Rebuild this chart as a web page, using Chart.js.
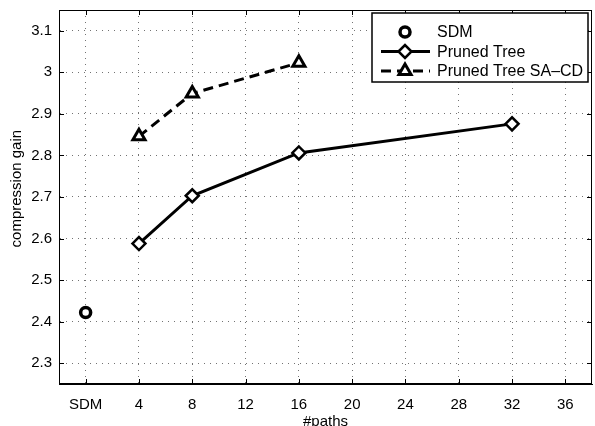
<!DOCTYPE html>
<html>
<head>
<meta charset="utf-8">
<script src="https://cdn.jsdelivr.net/npm/chart.js@4.4.0/dist/chart.umd.min.js"></script>
<style>
  html, body { margin: 0; padding: 0; background: #fff; }
</style>
</head>
<body>
<canvas id="chart" width="595" height="426"></canvas>
<script>
// values
const xTicks = [0, 4, 8, 12, 16, 20, 24, 28, 32, 36];
const yTicks = [2.3, 2.4, 2.5, 2.6, 2.7, 2.8, 2.9, 3.0, 3.1];
const sdmPaths = [0];
const sdmGain = [2.422];
const treePaths = [4, 8, 16, 32];
const treeGain = [2.588, 2.703, 2.806, 2.876];
const sacdPaths = [4, 8, 16];
const sacdGain = [2.846, 2.949, 3.023];
const seriesNames = ['SDM', 'Pruned Tree', 'Pruned Tree SA\u2013CD'];

const FONT = "'Liberation Sans', Arial, Helvetica, sans-serif";
Chart.defaults.font.family = FONT;
Chart.defaults.font.size = 15;
Chart.defaults.color = '#000';

const pts = (xs, ys) => xs.map((x, i) => ({ x: x, y: ys[i] }));

// box around the axes plus inward tick marks, matlab style
const framePlugin = {
  id: 'frame',
  afterDatasetsDraw(chart) {
    const { ctx, chartArea: a, scales } = chart;
    ctx.save();
    ctx.strokeStyle = '#000';
    ctx.lineWidth = 1;
    ctx.strokeRect(a.left + 0.5, a.top + 0.5, a.right - a.left - 1, a.bottom - a.top - 1);
    ctx.beginPath();
    xTicks.forEach(v => {
      const px = Math.round(scales.x.getPixelForValue(v)) + 0.5;
      ctx.moveTo(px, a.bottom); ctx.lineTo(px, a.bottom - 5);
      ctx.moveTo(px, a.top); ctx.lineTo(px, a.top + 5);
    });
    yTicks.forEach(v => {
      const py = Math.round(scales.y.getPixelForValue(v)) + 0.5;
      ctx.moveTo(a.left, py); ctx.lineTo(a.left + 5, py);
      ctx.moveTo(a.right, py); ctx.lineTo(a.right - 5, py);
    });
    ctx.stroke();
    ctx.restore();
  }
};

// legend box in the upper right corner
const legendPlugin = {
  id: 'boxLegend',
  afterDraw(chart) {
    const { ctx } = chart;
    const bx = 372, by = 13, bw = 216, bh = 69;
    ctx.save();
    ctx.fillStyle = '#fff';
    ctx.fillRect(bx, by, bw, bh);
    ctx.strokeStyle = '#000';
    ctx.lineWidth = 1.5;
    ctx.strokeRect(bx, by, bw, bh);
    chart.data.datasets.forEach((ds, i) => {
      const y = 32 + i * 19.5;
      ctx.strokeStyle = '#000';
      if (ds.showLine !== false) {
        ctx.lineWidth = ds.borderWidth;
        ctx.setLineDash(ds.borderDash || []);
        ctx.beginPath();
        ctx.moveTo(381, y); ctx.lineTo(430, y);
        ctx.stroke();
        ctx.setLineDash([]);
      }
      ctx.fillStyle = '#fff';
      ctx.lineWidth = ds.pointBorderWidth;
      Chart.helpers.drawPoint(ctx, {
        pointStyle: ds.pointStyle,
        radius: ds.pointRadius,
        rotation: 0,
        borderWidth: ds.pointBorderWidth
      }, 405, y);
      ctx.fillStyle = '#000';
      ctx.font = '16px ' + FONT;
      ctx.textBaseline = 'middle';
      ctx.textAlign = 'left';
      ctx.fillText(ds.label, 437, y + 1);
    });
    ctx.restore();
  }
};

new Chart(document.getElementById('chart'), {
  type: 'line',
  data: {
    datasets: [
      {
        label: seriesNames[0],
        data: pts(sdmPaths, sdmGain),
        showLine: false,
        borderColor: '#000',
        borderWidth: 3,
        pointStyle: 'circle',
        pointRadius: 5,
        pointBorderWidth: 3.5,
        pointBackgroundColor: '#fff',
        pointBorderColor: '#000'
      },
      {
        label: seriesNames[1],
        data: pts(treePaths, treeGain),
        borderColor: '#000',
        borderWidth: 3,
        pointStyle: 'rectRot',
        pointRadius: 6.5,
        pointBorderWidth: 2.5,
        pointBackgroundColor: '#fff',
        pointBorderColor: '#000'
      },
      {
        label: seriesNames[2],
        data: pts(sacdPaths, sacdGain),
        borderColor: '#000',
        borderWidth: 3,
        borderDash: [10, 6],
        pointStyle: 'triangle',
        pointRadius: 7,
        pointBorderWidth: 3,
        pointBackgroundColor: '#fff',
        pointBorderColor: '#000'
      }
    ]
  },
  options: {
    responsive: false,
    animation: false,
    devicePixelRatio: 1,
    layout: { autoPadding: false, padding: { left: 0, top: 10, right: 3, bottom: 0 } },
    plugins: { legend: { display: false }, tooltip: { enabled: false } },
    scales: {
      x: {
        type: 'linear',
        min: -2,
        max: 38,
        afterBuildTicks: s => { s.ticks = xTicks.map(v => ({ value: v })); },
        afterFit: s => { s.height = 42; s.paddingLeft = 0; s.paddingRight = 0; },
        grid: { color: 'rgba(0,0,0,0.55)', drawTicks: false },
        border: { display: true, color: '#000', dash: [1, 5] },
        ticks: {
          padding: 12,
          maxRotation: 0,
          autoSkip: false,
          callback: v => v === 0 ? 'SDM' : String(v)
        },
        title: { display: true, text: '#paths', padding: { top: 0, bottom: -5 } }
      },
      y: {
        min: 2.25,
        max: 3.15,
        afterBuildTicks: s => { s.ticks = yTicks.map(v => ({ value: v })); },
        afterFit: s => { s.width = 59; s.paddingTop = 0; s.paddingBottom = 0; },
        grid: { color: 'rgba(0,0,0,0.55)', drawTicks: false },
        border: { display: true, color: '#000', dash: [1, 5] },
        ticks: {
          padding: 7,
          autoSkip: false,
          callback: v => (Math.abs(v - 3) < 1e-9 ? '3' : v.toFixed(1))
        },
        // leading spaces nudge the label a little up, as in the figure
        title: { display: true, text: '    compression gain', padding: { top: 8, bottom: 0 } }
      }
    }
  },
  plugins: [framePlugin, legendPlugin]
});
</script>
</body>
</html>
